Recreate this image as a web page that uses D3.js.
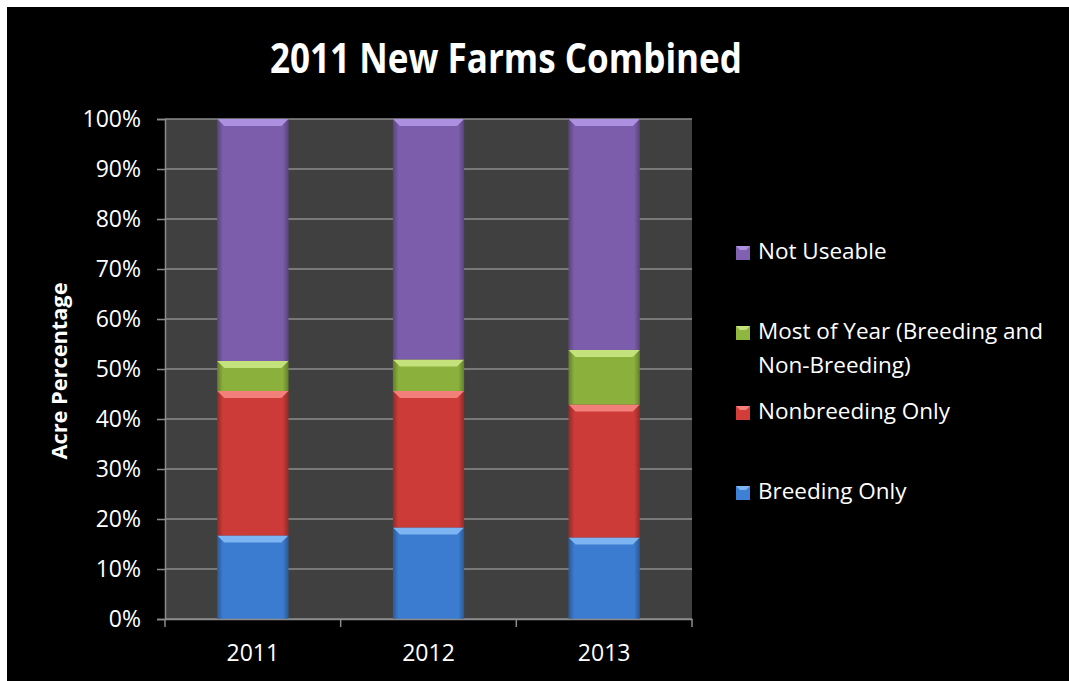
<!DOCTYPE html>
<html>
<head>
<meta charset="utf-8">
<script src="https://cdn.jsdelivr.net/npm/d3@7"></script>
<style>
  html, body { margin: 0; padding: 0; background: #fff; overflow: hidden; }
  svg { display: block; }
  text { font-family: "Open Sans", "DejaVu Sans", sans-serif; fill: #fff; }
</style>
</head>
<body>
<div id="chart"></div>
<script>
// data (acre percentage)
var years = ["2011", "2012", "2013"];
var breedingOnly = [16.7, 18.3, 16.3];
var nonbreedingOnly = [28.9, 27.3, 26.6];
var mostOfYear = [6.0, 6.3, 10.9];
var notUseable = [48.4, 48.1, 46.2];
var yTicks = [0, 10, 20, 30, 40, 50, 60, 70, 80, 90, 100];

var seriesNames = ["Breeding Only", "Nonbreeding Only", "Most of Year (Breeding and Non-Breeding)", "Not Useable"];
var seriesValues = [breedingOnly, nonbreedingOnly, mostOfYear, notUseable];
var colors = ["#3d80d6", "#d23d39", "#8fb63e", "#8060b0"];
var lightColors = ["#7db4f2", "#f27f7a", "#c4e27c", "#ae90e0"];

var W = 1069, H = 681;
var margin = { top: 119, right: 377, bottom: 62, left: 165 };
var width = W - margin.left - margin.right;
var height = H - margin.top - margin.bottom;

// build rows for the stack
var rows = years.map(function(y, i) {
  var r = { year: y };
  seriesNames.forEach(function(s, j) { r[s] = seriesValues[j][i]; });
  return r;
});
var stacked = d3.stack().keys(seriesNames)(rows);

var svg = d3.select("#chart").append("svg")
  .attr("width", W)
  .attr("height", H);

// white strip on top, black chart background
svg.append("rect").attr("width", W).attr("height", H).attr("fill", "#fff");
svg.append("rect").attr("x", 7).attr("y", 7).attr("width", W - 7).attr("height", H - 7).attr("fill", "#000");

var defs = svg.append("defs");
var shade = defs.append("linearGradient").attr("id", "shade").attr("x1", 0).attr("x2", 1).attr("y1", 0).attr("y2", 0);
shade.append("stop").attr("offset", "0%").attr("stop-color", "#000").attr("stop-opacity", 0.3);
shade.append("stop").attr("offset", "8%").attr("stop-color", "#000").attr("stop-opacity", 0.03);
shade.append("stop").attr("offset", "92%").attr("stop-color", "#000").attr("stop-opacity", 0.03);
shade.append("stop").attr("offset", "100%").attr("stop-color", "#000").attr("stop-opacity", 0.3);

var x = d3.scaleBand().domain(years).range([0, width]).padding(0);
var barW = x.bandwidth() * 0.405;
var y = d3.scaleLinear().domain([0, 100]).range([height, 0]);

var plot = svg.append("g").attr("transform", "translate(" + margin.left + "," + margin.top + ")");

plot.append("rect").attr("width", width).attr("height", height).attr("fill", "#404040");

// grid lines
plot.append("g").selectAll("line").data(yTicks).join("line")
  .attr("x1", 0).attr("x2", width)
  .attr("y1", function(d) { return y(d); })
  .attr("y2", function(d) { return y(d); })
  .attr("stroke", "#8c8c8c").attr("stroke-width", 1.5);

// bars
var layer = plot.append("g").selectAll("g").data(stacked).join("g");
layer.each(function(s, j) {
  var g = d3.select(this);
  var segs = g.selectAll("g").data(s).join("g")
    .attr("transform", function(d) {
      return "translate(" + (x(d.data.year) + (x.bandwidth() - barW) / 2) + ",0)";
    });
  segs.append("rect")
    .attr("y", function(d) { return y(d[1]); })
    .attr("width", barW)
    .attr("height", function(d) { return y(d[0]) - y(d[1]); })
    .attr("fill", colors[j]);
  segs.append("rect")
    .attr("y", function(d) { return y(d[1]); })
    .attr("width", barW)
    .attr("height", function(d) { return y(d[0]) - y(d[1]); })
    .attr("fill", "url(#shade)");
  // bevel on top edge
  segs.append("path")
    .attr("d", function(d) {
      var t = y(d[1]), b = 7;
      return "M0," + t + "L" + barW + "," + t + "L" + (barW - b) + "," + (t + b) + "L" + b + "," + (t + b) + "Z";
    })
    .attr("fill", lightColors[j]);
});

// axes
var yAxis = d3.axisLeft(y).tickValues(yTicks).tickSize(8).tickPadding(16)
  .tickFormat(function(d) { return d + "%"; });
var gy = plot.append("g").call(yAxis);
gy.select(".domain").attr("stroke", "#8c8c8c").attr("stroke-width", 1.5);
gy.selectAll(".tick line").attr("stroke", "#8c8c8c").attr("stroke-width", 1.5);
gy.selectAll(".tick text").attr("font-size", 23).attr("font-family", "Open Sans").attr("fill", "#fff");

var xAxis = d3.axisBottom(x).tickSize(0).tickPadding(26);
var gx = plot.append("g").attr("transform", "translate(0," + height + ")").call(xAxis);
gx.select(".domain").attr("stroke", "#8c8c8c").attr("stroke-width", 1.5);
gx.selectAll(".tick text").attr("font-size", 23).attr("font-family", "Open Sans").attr("fill", "#fff");
// category boundary ticks
gx.append("g").selectAll("line").data(years.concat(["end"])).join("line")
  .attr("x1", function(d, i) { return i * x.step(); })
  .attr("x2", function(d, i) { return i * x.step(); })
  .attr("y1", 0).attr("y2", 8)
  .attr("stroke", "#8c8c8c").attr("stroke-width", 1.5);

// title
svg.append("text")
  .attr("x", 506).attr("y", 73)
  .attr("text-anchor", "middle")
  .attr("font-size", 42).attr("font-weight", "bold")
  .attr("textLength", 472).attr("lengthAdjust", "spacingAndGlyphs")
  .text("2011 New Farms Combined");

// y label
svg.append("text")
  .attr("transform", "translate(67,371) rotate(-90)")
  .attr("text-anchor", "middle")
  .attr("font-size", 21).attr("font-weight", "bold")
  .attr("textLength", 177).attr("lengthAdjust", "spacingAndGlyphs")
  .text("Acre Percentage");

// legend (top to bottom: reverse of stack order)
var legendItems = [
  { s: 3, lines: ["Not Useable"], base: 259 },
  { s: 2, lines: ["Most of Year (Breeding and", "Non-Breeding)"], base: 339 },
  { s: 1, lines: ["Nonbreeding Only"], base: 419 },
  { s: 0, lines: ["Breeding Only"], base: 499 }
];
var leg = svg.append("g").selectAll("g").data(legendItems).join("g");
leg.append("rect")
  .attr("x", 736).attr("y", function(d) { return d.base - 13; })
  .attr("width", 14).attr("height", 14)
  .attr("fill", function(d) { return colors[d.s]; });
leg.append("path")
  .attr("d", function(d) {
    var t = d.base - 13;
    return "M736," + t + "L750," + t + "L746," + (t + 4) + "L740," + (t + 4) + "Z";
  })
  .attr("fill", function(d) { return lightColors[d.s]; });
leg.each(function(d) {
  var t = d3.select(this).append("text").attr("font-size", 22.5);
  d.lines.forEach(function(l, i) {
    t.append("tspan").attr("x", 758).attr("y", d.base + i * 34).text(l);
  });
});
</script>
</body>
</html>
